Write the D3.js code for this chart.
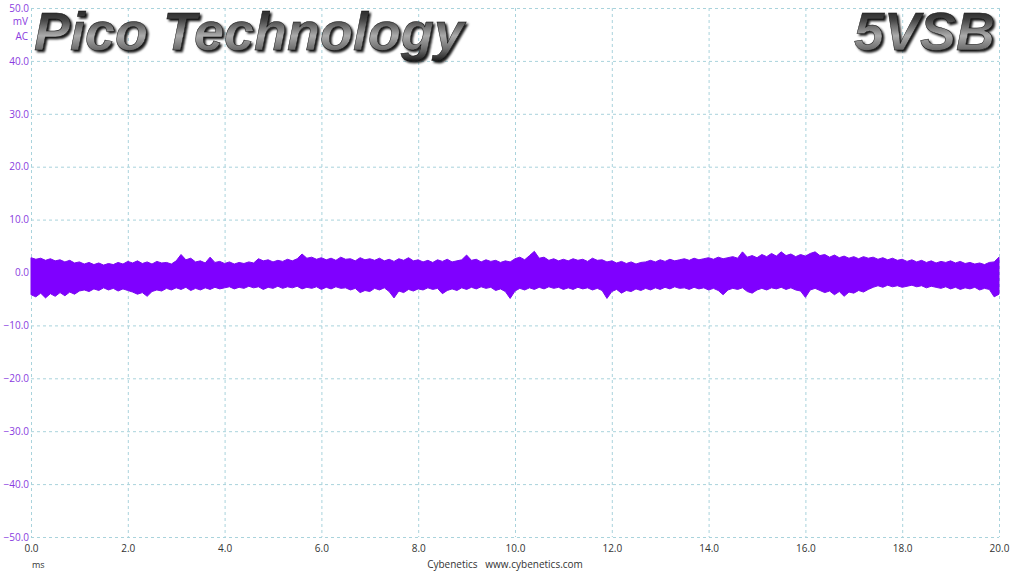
<!DOCTYPE html>
<html><head><meta charset="utf-8">
<script src="https://cdn.jsdelivr.net/npm/d3@7"></script>
<style>html,body{margin:0;padding:0;background:#fff;}svg{display:block;}</style>
</head><body>
<svg id="c" width="1015" height="571"></svg>
<script>
// ---- data ----
const xTicks = [0,2,4,6,8,10,12,14,16,18,20];
const yTicks = [50,40,30,20,10,0,-10,-20,-30,-40,-50];
const timeStepMs = 0.1; // sample spacing of envelope arrays (ms)
// upper envelope of the ripple band (mV), one value every 0.1 ms from 0.0 to 20.0
const upperMv = [
 2.8,2.5,2.7,2.3,2.6,2.2,2.4,2.0,2.3,1.8,2.0,
 1.6,1.9,1.5,1.8,1.4,1.7,1.5,1.9,1.6,2.1,
 1.8,2.2,1.7,2.0,1.6,2.1,1.8,1.9,1.6,2.2,
 3.4,2.4,2.7,2.0,2.2,1.8,2.9,1.9,2.1,1.7,
 2.0,1.6,1.9,1.7,2.0,1.8,2.6,2.2,2.4,2.0,
 2.3,2.1,2.5,2.2,2.6,3.5,2.7,2.9,2.5,2.8,
 2.4,2.7,2.3,2.9,2.5,2.6,2.2,2.8,2.4,2.6,
 2.3,2.7,2.2,2.5,2.1,2.6,2.3,2.8,2.2,2.4,
 2.0,2.3,1.9,2.4,2.1,2.5,2.0,2.2,2.4,3.3,
 2.3,2.5,2.0,2.4,2.1,2.3,1.9,2.2,2.0,2.6,
 2.9,2.4,3.2,4.0,2.7,2.9,2.3,2.6,2.2,2.5,
 2.2,2.6,2.3,2.5,2.1,2.7,2.3,2.4,2.0,2.2,
 1.8,2.1,1.7,2.0,1.6,1.9,2.0,2.3,2.0,2.4,
 2.1,2.5,2.2,2.4,2.6,2.3,2.7,2.4,2.6,2.8,
 2.5,2.9,2.6,2.8,3.0,2.7,3.9,2.9,3.2,2.8,
 3.4,3.0,3.6,3.1,3.9,3.2,3.5,3.0,3.4,3.1,
 3.6,3.9,3.2,3.4,2.9,3.3,2.8,3.1,2.7,3.0,
 2.6,3.0,2.7,2.9,2.5,2.8,2.4,2.7,2.3,2.5,
 2.1,2.4,2.0,2.3,1.9,2.2,1.8,2.1,1.9,2.2,
 1.8,2.1,1.7,1.9,1.6,1.8,1.5,1.9,2.0,2.9
];
// lower envelope of the ripple band (mV)
const lowerMv = [
 -4.2,-4.6,-3.9,-4.8,-4.0,-4.5,-3.8,-4.4,-3.7,-4.1,-3.5,
 -3.3,-3.6,-3.1,-3.4,-2.9,-3.3,-3.0,-3.5,-3.1,-3.4,
 -3.7,-4.1,-3.8,-4.5,-3.6,-3.3,-3.5,-3.0,-3.3,-2.9,
 -3.2,-2.8,-3.4,-3.0,-3.3,-2.9,-3.2,-2.8,-3.1,-2.9,
 -2.7,-3.1,-2.8,-3.0,-2.6,-2.9,-2.7,-3.2,-2.8,-3.0,
 -2.6,-3.0,-2.7,-2.9,-2.6,-3.1,-2.8,-3.0,-2.7,-3.2,
 -2.8,-3.1,-2.7,-3.0,-2.9,-3.3,-3.0,-3.8,-3.4,-3.6,
 -3.0,-3.3,-2.9,-3.6,-4.8,-3.5,-3.8,-3.2,-3.5,-3.1,
 -3.3,-2.9,-3.2,-3.0,-4.0,-3.4,-3.1,-3.4,-2.9,-3.2,
 -2.8,-3.1,-2.7,-3.0,-2.8,-3.4,-3.1,-3.6,-4.9,-3.5,
 -3.0,-3.3,-2.9,-3.2,-2.8,-3.1,-2.7,-3.0,-2.8,-3.2,
 -2.9,-3.2,-2.8,-3.1,-2.9,-3.3,-3.0,-3.4,-4.9,-3.6,
 -3.2,-3.9,-3.4,-3.6,-3.1,-3.4,-3.0,-3.3,-2.9,-3.2,
 -2.8,-3.1,-2.7,-3.0,-2.9,-3.2,-2.8,-3.1,-2.9,-3.3,
 -3.0,-3.4,-4.2,-3.3,-3.0,-3.2,-2.9,-3.6,-3.9,-3.3,
 -3.0,-3.3,-2.9,-3.1,-2.8,-3.2,-2.9,-3.3,-3.5,-4.7,
 -3.3,-3.0,-3.4,-3.8,-3.5,-4.2,-3.6,-4.5,-3.7,-3.9,
 -3.4,-3.7,-3.2,-2.8,-2.5,-2.8,-2.4,-2.7,-2.5,-2.8,
 -2.6,-2.4,-2.7,-2.5,-2.9,-2.6,-2.8,-3.0,-2.7,-3.1,
 -2.8,-3.2,-2.9,-3.1,-2.8,-3.3,-3.0,-3.2,-4.6,-4.1
];
const titleLeft = "Pico Technology";
const titleRight = "5VSB";
const yUnit = ["mV","AC"];
const xUnit = "ms";
const credit = "Cybenetics   www.cybenetics.com";

// ---- chart ----
const svg = d3.select("#c");
const x = d3.scaleLinear().domain([0,20]).range([31,999]);
const y = d3.scaleLinear().domain([-50,50]).range([537,8]);
const gridColor = "#a9d3dc";
const purple = "#8a3be0";
const fontF = "'Open Sans','Noto Sans','Liberation Sans',Arial,sans-serif";

const defs = svg.append("defs");
const grad = defs.append("linearGradient").attr("id","metal").attr("x1",0).attr("y1",0).attr("x2",0).attr("y2",1);
[[0,"#151515"],[0.3,"#404040"],[0.58,"#ababab"],[0.8,"#6e6e6e"],[1,"#1e1e1e"]]
  .forEach(([o,c])=>grad.append("stop").attr("offset",o).attr("stop-color",c));
const flt = defs.append("filter").attr("id","shadow").attr("x","-5%").attr("y","-20%").attr("width","115%").attr("height","150%");
flt.append("feDropShadow").attr("dx",2).attr("dy",2).attr("stdDeviation",1.2)
  .attr("flood-color","#000").attr("flood-opacity",0.9);

// grid
svg.append("g").selectAll("line.v").data(xTicks).join("line")
  .attr("x1",d=>x(d)+0.5).attr("x2",d=>x(d)+0.5).attr("y1",y(50)).attr("y2",y(-50))
  .attr("stroke",gridColor).attr("stroke-width",1).attr("stroke-dasharray","3,3");
svg.append("g").selectAll("line.h").data(yTicks).join("line")
  .attr("x1",x(0)).attr("x2",x(20)).attr("y1",d=>y(d)+0.5).attr("y2",d=>y(d)+0.5)
  .attr("stroke",gridColor).attr("stroke-width",1).attr("stroke-dasharray","3,3");

// y axis labels
const yAxis = d3.axisLeft(y).tickValues(yTicks).tickSize(0).tickPadding(2).tickFormat(d3.format(".1f"));
const ya = svg.append("g").attr("transform",`translate(${x(0)},0)`).call(yAxis);
ya.select(".domain").remove();
ya.selectAll("text").attr("fill",purple).style("font-family",fontF).style("font-size","10px");
svg.selectAll("text.unit").data(yUnit).join("text")
  .attr("x",28).attr("y",(d,i)=>y(50)+14+i*15+3).attr("text-anchor","end")
  .attr("fill",purple).style("font-family",fontF).style("font-size","10px").text(d=>d);

// x axis labels
const xAxis = d3.axisBottom(x).tickValues(xTicks).tickSize(0).tickPadding(8).tickFormat(d3.format(".1f"));
const xa = svg.append("g").attr("transform",`translate(0,${y(-50)})`).call(xAxis);
xa.select(".domain").remove();
xa.selectAll("text").attr("fill","#333").style("font-family",fontF).style("font-size","10px");
svg.append("text").attr("x",32).attr("y",568).attr("fill","#333")
  .style("font-family",fontF).style("font-size","9px").text(xUnit);
svg.append("text").attr("x",505).attr("y",568).attr("text-anchor","middle").attr("fill","#333")
  .style("font-family",fontF).style("font-size","10px").attr("xml:space","preserve").style("white-space","pre").text(credit);

// ripple band
const band = upperMv.map((u,i)=>({t:i*timeStepMs,u:u,l:lowerMv[i]}));
const area = d3.area().x(d=>x(d.t)).y0(d=>y(d.l)).y1(d=>y(d.u)).curve(d3.curveLinear);
svg.append("path").datum(band).attr("d",area).attr("fill","#7f00ff")
  .attr("stroke","#7a08f0").attr("stroke-width",1).attr("stroke-linejoin","miter");

// titles with metallic gradient
function title(txt, xp, anchor){
  svg.append("text").attr("x",xp).attr("y",50).attr("text-anchor",anchor)
   .attr("fill","url(#metal)").attr("stroke","#111").attr("stroke-width",0.5)
   .attr("filter","url(#shadow)")
   .style("font-family","'Liberation Sans',Arial,sans-serif")
   .style("font-weight","bold").style("font-style","italic").style("font-size","54px").text(txt);
}
title(titleLeft, 34, "start");
title(titleRight, 995, "end");
</script>
</body></html>
